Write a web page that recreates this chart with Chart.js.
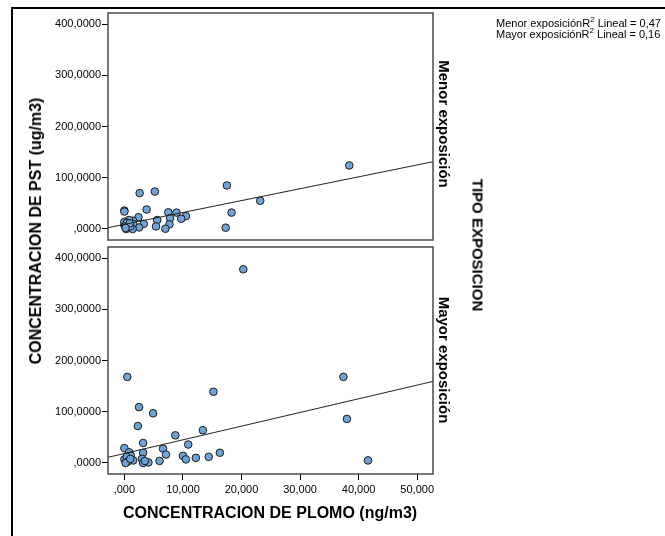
<!DOCTYPE html>
<html>
<head>
<meta charset="utf-8">
<script src="https://cdn.jsdelivr.net/npm/chart.js@4.4.0/dist/chart.umd.min.js"></script>
<style>
    body { margin: 0; background: #fff; }
    #wrap { position: relative; width: 665px; height: 536px; overflow: hidden; background: #fff; font-family: "Liberation Sans", Arial, sans-serif; }
    canvas { position: absolute; left: 0; top: 0; }
    .frame { position: absolute; left: 11px; top: 7px; width: 720px; height: 600px; border-left: 2px solid #000; border-top: 2px solid #000; }
    .rot { position: absolute; white-space: nowrap; font-weight: bold; color: #000; transform: translate(-50%, -50%) rotate(90deg); }
    .rotl { transform: translate(-50%, -50%) rotate(-90deg); }
    .title { position: absolute; white-space: nowrap; font-weight: bold; transform: translate(-50%, -50%); }
    .fitnote { position: absolute; left: 496px; font-size: 11px; white-space: nowrap; line-height: 11px; }
    .fitnote sup { font-size: 8px; line-height: 0; }
</style>
</head>
<body>
<div id="wrap">
    <div class="frame"></div>
    <canvas id="panel-menor" width="665" height="536"></canvas>
    <canvas id="panel-mayor" width="665" height="536"></canvas>
    <div class="rot rotl" style="left:36px;top:231px;font-size:16px">CONCENTRACION DE PST (ug/m3)</div>
    <div class="title" style="left:270px;top:513px;font-size:16px">CONCENTRACION DE PLOMO (ng/m3)</div>
    <div class="rot" style="left:444px;top:124px;font-size:15px">Menor exposición</div>
    <div class="rot" style="left:444px;top:360px;font-size:15px">Mayor exposición</div>
    <div class="rot" style="left:478px;top:245px;font-size:15px">TIPO EXPOSICION</div>
    <div class="fitnote" style="top:18px">Menor exposiciónR<sup>2</sup> Lineal = 0,47<br>Mayor exposiciónR<sup>2</sup> Lineal = 0,16</div>
</div>
<script>
// datos (plomo ng/m3, PST ug/m3)
const menorPlomo = [38.4, 17.5, 23.2, 18.3, 17.3, 5.2, 2.6, 3.8, 0, 0, 7.5, 8.9, 10.5, 9.7, 7.8, 7.7, 5.6, 5.4, 7.0, 2.4, 3.3, 2.5, 1.5, 0.8, 1.5, 1.4, 0.3, 0, 0, 0.4, 1, 0.1, 0.9, 0.2];
const menorPST   = [124, 85, 55, 32, 2.5, 73, 70, 38, 36, 34, 32.5, 32, 25, 20, 21, 9, 17.5, 5, 0.5, 23, 10, 3, 16, 17.5, 10, 0, 0, 8, 14, 12, 5, 5, 11, 2];

const mayorPlomo = [20.3, 0.5, 37.4, 15.2, 38.0, 2.5, 4.9, 2.3, 8.7, 13.4, 3.2, 10.9, 6.6, 7.1, 3.2, 0, 0.8, 1.1, 10, 10.5, 12.2, 14.4, 16.3, 41.6, 6.0, 4.1, 3.2, 3.0, 3.2, 1.5, 0.3, 0, 0.4, 3.5, 0.6, 0.2, 1.0];
const mayorPST   = [378, 168, 168, 139, 86, 109, 97, 72, 54, 64, 39, 36, 28, 16.5, 20, 29, 21, 14, 14, 7, 10, 12, 20, 5, 4, 1, 3, 8, 0, 5, 1, 7, 12, 4, 3, 0, 8];

// ajuste lineal [intercepto, pendiente]
const menorFit = [9, 2.32];
const mayorFit = [18.5, 2.67];

const xTicks = [0, 10, 20, 30, 40, 50];
const xTickLabels = [",000", "10,000", "20,000", "30,000", "40,000", "50,000"];
const yTicks = [0, 100, 200, 300, 400];
const yTickLabels = [",0000", "100,0000", "200,0000", "300,0000", "400,0000"];

const X_MIN = -2.8, X_MAX = 52.7;
const Y_MIN = -21.5, Y_MAX = 421.5;

Chart.defaults.font.family = '"Liberation Sans", Arial, sans-serif';
Chart.defaults.color = "#000";

const panelBox = {
    id: "panelBox",
    afterDraw: function (chart) {
        const a = chart.chartArea;
        const ctx = chart.ctx;
        ctx.save();
        ctx.strokeStyle = "#4a4a4a";
        ctx.lineWidth = 1.5;
        ctx.strokeRect(a.left, a.top, a.right - a.left, a.bottom - a.top);
        ctx.restore();
    }
};

function toPoints(xs, ys) {
    return xs.map(function (x, i) { return { x: x, y: ys[i] }; });
}

function fitLine(fit) {
    return [
        { x: X_MIN, y: fit[0] + fit[1] * X_MIN },
        { x: X_MAX, y: fit[0] + fit[1] * X_MAX }
    ];
}

function makePanel(id, xs, ys, fit, showX, padTop, padBottom) {
    const Target = document.getElementById(id);
    return new Chart(Target, {
        type: "scatter",
        data: {
            datasets: [
                {
                    type: "line",
                    data: fitLine(fit),
                    borderColor: "#222",
                    borderWidth: 1,
                    pointRadius: 0,
                    fill: false,
                },
                {
                    data: toPoints(xs, ys),
                    backgroundColor: "#6fa3d8",
                    borderColor: "#1a1a1a",
                    borderWidth: 1,
                    pointRadius: 3.8,
                },
            ],
        },
        options: {
            responsive: false,
            animation: false,
            layout: { padding: { left: 48, right: 232, top: padTop, bottom: padBottom } },
            plugins: { legend: { display: false }, tooltip: { enabled: false } },
            scales: {
                x: {
                    type: "linear",
                    display: showX,
                    min: X_MIN,
                    max: X_MAX,
                    afterBuildTicks: function (scale) {
                        scale.ticks = xTicks.map(function (v) { return { value: v }; });
                    },
                    afterFit: function (scale) { scale.height = showX ? 30 : 0; },
                    ticks: {
                        font: { size: 11 },
                        padding: 3,
                        maxRotation: 0,
                        callback: function (v, i) { return xTickLabels[i]; },
                    },
                    grid: { drawOnChartArea: false, drawTicks: true, tickLength: 6, color: "#000" },
                    border: { display: false },
                },
                y: {
                    type: "linear",
                    min: Y_MIN,
                    max: Y_MAX,
                    afterBuildTicks: function (scale) {
                        scale.ticks = yTicks.map(function (v) { return { value: v }; });
                    },
                    afterFit: function (scale) { scale.width = 60; },
                    ticks: {
                        font: { size: 11 },
                        padding: 1,
                        callback: function (v, i) { return yTickLabels[i]; },
                    },
                    grid: { drawOnChartArea: false, drawTicks: true, tickLength: 6, color: "#000" },
                    border: { display: false },
                },
            },
        },
        plugins: [panelBox],
    });
}

makePanel("panel-menor", menorPlomo, menorPST, menorFit, false, 13, 296);
makePanel("panel-mayor", mayorPlomo, mayorPST, mayorFit, true, 247, 32);
</script>
</body>
</html>
